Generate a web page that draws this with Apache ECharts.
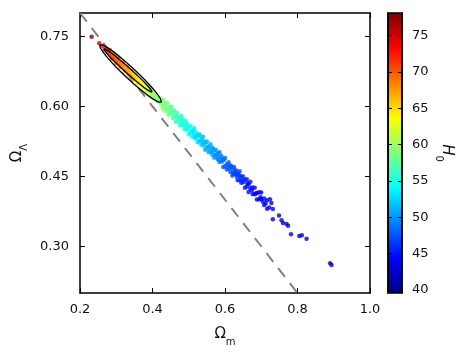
<!DOCTYPE html>
<html>
<head>
<meta charset="utf-8">
<title>Omega_m vs Omega_Lambda</title>
<script src="https://cdn.jsdelivr.net/npm/echarts@6.0.0/dist/echarts.min.js"></script>
<style>
  html, body { margin: 0; padding: 0; background: #fff; }
  #chart { width: 467px; height: 354px; }
</style>
</head>
<body>
<div id="chart"></div>
<script>
// ---- data ----
// sample points: Omega_m, Omega_Lambda, H0
const omegaM = [
  // two outliers above the contours
  0.232, 0.253,
  // inside the contours
  0.262, 0.268, 0.272, 0.276, 0.280, 0.284, 0.288, 0.292, 0.296, 0.300,
  0.303, 0.306, 0.309, 0.312, 0.315, 0.318, 0.321, 0.324, 0.327, 0.330,
  0.333, 0.336, 0.339, 0.342, 0.345, 0.348, 0.351, 0.354, 0.357, 0.360,
  0.363, 0.366, 0.369, 0.372, 0.375, 0.378, 0.381, 0.384, 0.387, 0.390,
  0.393, 0.396, 0.399, 0.402, 0.405, 0.408, 0.411, 0.414, 0.417, 0.420,
  0.282, 0.288, 0.294, 0.300, 0.306, 0.312, 0.318, 0.324, 0.330, 0.336,
  0.342, 0.348, 0.354, 0.360, 0.366, 0.372, 0.378, 0.384, 0.390, 0.396,
  0.402,
  // green / cyan part of the band
  0.424, 0.424, 0.428, 0.428, 0.432, 0.432, 0.436, 0.436, 0.440, 0.440,
  0.444, 0.444, 0.448, 0.448, 0.452, 0.452, 0.456, 0.456, 0.460, 0.460,
  0.464, 0.464, 0.468, 0.468, 0.472, 0.472, 0.476, 0.476, 0.480, 0.480,
  0.484, 0.484, 0.488, 0.488, 0.492, 0.492, 0.496, 0.496, 0.500, 0.500,
  // light blue part
  0.505, 0.505, 0.510, 0.510, 0.515, 0.515, 0.520, 0.520, 0.525, 0.525,
  0.530, 0.530, 0.535, 0.535, 0.540, 0.540, 0.545, 0.545, 0.550, 0.550,
  0.555, 0.555, 0.560, 0.560, 0.565, 0.565, 0.570, 0.570, 0.575, 0.575,
  0.580, 0.580, 0.585, 0.585, 0.590, 0.590, 0.595, 0.595, 0.600, 0.600,
  0.605, 0.605, 0.610, 0.610, 0.615, 0.615, 0.620, 0.620, 0.625, 0.625,
  0.630, 0.630, 0.635, 0.635, 0.640, 0.640, 0.645, 0.645, 0.650, 0.650,
  // blue cluster
  0.655, 0.655, 0.660, 0.660, 0.665, 0.665, 0.670, 0.670, 0.676, 0.676,
  0.682, 0.682, 0.688, 0.688, 0.694, 0.694, 0.700, 0.700, 0.708, 0.708,
  0.716, 0.716, 0.722, 0.728, 0.724, 0.732,
  0.662, 0.674, 0.686, 0.698, 0.712, 0.704,
  // sparse tail
  0.732, 0.749, 0.756, 0.760, 0.770, 0.774, 0.782, 0.805, 0.812, 0.825,
  0.890, 0.894,
  // middle of the band (green / cyan)
  0.426, 0.430, 0.434, 0.438, 0.442, 0.446, 0.450, 0.454, 0.458, 0.462,
  0.466, 0.470, 0.474, 0.478, 0.482, 0.486, 0.490, 0.494, 0.498,
  // middle of the band (light blue)
  0.5075, 0.5125, 0.5175, 0.5225, 0.5275, 0.5325, 0.5375, 0.5425, 0.5475, 0.5525,
  0.5575, 0.5625, 0.5675, 0.5725, 0.5775, 0.5825, 0.5875, 0.5925, 0.5975, 0.6025,
  0.6075, 0.6125, 0.6175, 0.6225, 0.6275, 0.6325, 0.6375, 0.6425, 0.6475
];
const omegaL = [
  0.749, 0.735,
  0.7295, 0.7221, 0.7231, 0.7172, 0.7172, 0.7102, 0.7103, 0.7033, 0.7064, 0.6994,
  0.7002, 0.6930, 0.6947, 0.6895, 0.6923, 0.6861, 0.6869, 0.6796, 0.6814, 0.6762,
  0.6790, 0.6728, 0.6735, 0.6663, 0.6681, 0.6629, 0.6657, 0.6594, 0.6602, 0.6530,
  0.6548, 0.6496, 0.6523, 0.6461, 0.6469, 0.6397, 0.6415, 0.6362, 0.6390, 0.6328,
  0.6336, 0.6264, 0.6281, 0.6229, 0.6257, 0.6195, 0.6203, 0.6130, 0.6158, 0.6096,
  0.7207, 0.7023, 0.7118, 0.6934, 0.7030, 0.6845, 0.6941, 0.6756, 0.6852, 0.6668,
  0.6763, 0.6579, 0.6674, 0.6490, 0.6586, 0.6401, 0.6497, 0.6312, 0.6408, 0.6224,
  0.6319,
  0.6166, 0.6026, 0.6077, 0.5947, 0.6127, 0.5987, 0.5908, 0.6048, 0.6078, 0.5948,
  0.5818, 0.5978, 0.5989, 0.5839, 0.5869, 0.5999, 0.5910, 0.5750, 0.5770, 0.5910,
  0.5810, 0.5670, 0.5681, 0.5861, 0.5771, 0.5701, 0.5592, 0.5772, 0.5792, 0.5612,
  0.5622, 0.5722, 0.5643, 0.5513, 0.5513, 0.5693, 0.5614, 0.5514, 0.5404, 0.5544,
  0.5577, 0.5437, 0.5350, 0.5490, 0.5533, 0.5393, 0.5306, 0.5446, 0.5369, 0.5229,
  0.5262, 0.5402, 0.5345, 0.5175, 0.5218, 0.5348, 0.5241, 0.5071, 0.5094, 0.5244,
  0.5137, 0.5017, 0.5050, 0.5190, 0.5113, 0.4963, 0.4896, 0.5046, 0.5069, 0.4939,
  0.4872, 0.4992, 0.5015, 0.4805, 0.4838, 0.4938, 0.4861, 0.4701, 0.4714, 0.4894,
  0.4757, 0.4647, 0.4670, 0.4800, 0.4733, 0.4593, 0.4516, 0.4666, 0.4699, 0.4549,
  0.4542, 0.4632, 0.4565, 0.4415, 0.4418, 0.4608, 0.4471, 0.4361, 0.4374, 0.4494,
  0.4427, 0.4257, 0.4280, 0.4440, 0.4333, 0.4163, 0.4246, 0.4386, 0.4122, 0.4262,
  0.4257, 0.4117, 0.4003, 0.4143, 0.4158, 0.4008, 0.4014, 0.4154, 0.3885, 0.4025,
  0.3986, 0.3806, 0.3831, 0.3927, 0.401, 0.380,
  0.435, 0.420, 0.414, 0.405, 0.392, 0.396,
  0.358, 0.366, 0.356, 0.350, 0.348, 0.344, 0.326, 0.322, 0.324, 0.316,
  0.264, 0.260,
  0.6102, 0.6022, 0.6062, 0.5943, 0.5963, 0.5864, 0.5934, 0.5854, 0.5895, 0.5775,
  0.5796, 0.5696, 0.5756, 0.5667, 0.5717, 0.5588, 0.5608, 0.5508, 0.5569,
  0.5439, 0.5472, 0.5335, 0.5368, 0.5381, 0.5264, 0.5277, 0.5160, 0.5223, 0.5126,
  0.5119, 0.5022, 0.5085, 0.4958, 0.4961, 0.4854, 0.4917, 0.4820, 0.4853, 0.4716,
  0.4749, 0.4682, 0.4715, 0.4578, 0.4611, 0.4484, 0.4517, 0.4510, 0.4403
];
const hubble = [
  77.5, 74.5,
  72.5, 72, 71.5, 71.5, 71, 71, 70.5, 70.5, 70, 70,
  69.5, 69.5, 69, 69, 68.5, 68.5, 68, 68, 67.5, 67.5,
  67, 67, 66.5, 66.5, 66, 66, 65.5, 65, 65, 64.5,
  64, 64, 63.5, 63, 63, 62.5, 62, 62, 61.5, 61,
  61, 60.5, 60, 60, 59.5, 59.5, 59, 59, 58.5, 58.5,
  71, 70.5, 70, 70, 69.5, 69, 68.5, 68, 67.5, 67,
  66.5, 66, 65, 64.5, 64, 63, 62.5, 62, 61, 60.5,
  60,
  59.5, 59.5, 59.5, 59, 59, 59, 59, 58.5, 58.5, 58.5,
  58, 58.5, 58, 58, 57.5, 58, 57.5, 57, 57, 57.5,
  56.5, 56, 56, 56.5, 56, 56, 55.5, 56, 55.5, 55.5,
  55, 55.5, 55, 55, 54.5, 55, 54.5, 54.5, 54, 54.5,
  54, 53.5, 53.5, 54, 53.5, 53, 53, 53.5, 53, 52.5,
  52, 52.5, 52, 51.5, 51.5, 52, 51.5, 51, 51, 51.5,
  51, 50.5, 50.5, 51, 50.5, 50, 50, 50.5, 50, 49.5,
  49, 49.5, 49, 48.5, 48.5, 49, 48.5, 48, 48, 48.5,
  48, 47.5, 47.5, 48, 47.5, 47, 47, 47.5, 47, 46.5,
  46.5, 47, 46.5, 46, 46, 46.5, 46, 45.5, 45.5, 46,
  45.5, 45, 45, 45.5, 45, 44.5, 44.5, 45, 44.5, 44.5,
  44.5, 44, 44, 44.5, 44, 44, 44, 44, 44, 43.5,
  43.5, 44, 43.5, 43.5, 44, 43.5,
  44.5, 44.5, 44, 44, 43.5, 44,
  43.5, 43.5, 43.5, 43, 43, 43, 43, 43, 43, 43,
  42.5, 42.5,
  59.3, 59, 58.8, 58.5, 58.3, 58, 57.8, 57.5, 57.3, 57,
  56.7, 56.5, 56.2, 56, 55.7, 55.5, 55.2, 55, 54.7,
  53.5, 53.2, 53, 52.7, 52.4, 52.2, 51.9, 51.6, 51.4, 51.1,
  50.8, 50.5, 50.3, 50, 49.7, 49.5, 49.2, 48.9, 48.7, 48.4,
  48.1, 47.9, 47.6, 47.3, 47.1, 46.8, 46.5, 46.3, 46
];

// confidence contours (traced vertices)
const outerM = [0.3290, 0.3006, 0.2722, 0.2562, 0.2547, 0.2633, 0.2868, 0.3201, 0.3497,
  0.3780, 0.4065, 0.4224, 0.4239, 0.4153, 0.3918, 0.3585, 0.3290];
const outerL = [0.6618, 0.6833, 0.7077, 0.7252, 0.7318, 0.7310, 0.7199, 0.6995, 0.6790,
  0.6574, 0.6330, 0.6156, 0.6089, 0.6097, 0.6208, 0.6413, 0.6618];
const innerM = [0.3273, 0.3049, 0.2820, 0.2685, 0.2662, 0.2720, 0.2893, 0.3146, 0.3376,
  0.3599, 0.3828, 0.3964, 0.3986, 0.3928, 0.3756, 0.3502, 0.3273];
const innerL = [0.6723, 0.6884, 0.7062, 0.7186, 0.7229, 0.7216, 0.7125, 0.6968, 0.6813,
  0.6652, 0.6474, 0.6350, 0.6307, 0.6320, 0.6410, 0.6568, 0.6723];

// flat universe line Om + OL = 1
const flatM = [0.2, 0.8];
const flatL = [0.8, 0.2];

// ticks
const xTicks = [0.2, 0.4, 0.6, 0.8, 1.0];
const yTicks = [0.3, 0.45, 0.6, 0.75];
const cbTicks = [40, 45, 50, 55, 60, 65, 70, 75];
const cbMin = 39.6;
const cbMax = 78.1;

// ---- helpers ----
const zip = (a, b, c) => a.map((v, i) => c ? [v, b[i], c[i]] : [v, b[i]]);

// matplotlib-like jet colormap
const jet = (t) => {
  const c = v => Math.round(255 * Math.max(0, Math.min(1, v)));
  return 'rgb(' + c(1.5 - Math.abs(4 * t - 3)) + ',' + c(1.5 - Math.abs(4 * t - 2)) + ',' + c(1.5 - Math.abs(4 * t - 1)) + ')';
};
const jetStops = [];
for (let i = 0; i <= 40; i++) jetStops.push(jet(i / 40));

const FONT = 'DejaVu Sans';
const black = '#000';

const tickLine = { lineStyle: { color: black, width: 1 } };
// base glyph + subscript
const subRich = (italic) => ({
  o: { fontSize: 15, fontFamily: FONT, fontStyle: italic ? 'italic' : 'normal', color: '#111', verticalAlign: 'top', lineHeight: 20 },
  s: { fontSize: 10, fontFamily: FONT, color: '#111', verticalAlign: 'bottom', lineHeight: 11 }
});

const chart = echarts.init(document.getElementById('chart'));

const option = {
  animation: false,
  textStyle: { fontFamily: FONT },
  grid: [
    { left: 80, top: 13, width: 290, height: 280, show: false },
    { left: 388, top: 13, width: 14, height: 280, show: true, z: 10,
      backgroundColor: 'transparent', borderColor: black, borderWidth: 1.5 }
  ],
  xAxis: [
    {
      gridIndex: 0, type: 'value', min: 0.2, max: 1.0, position: 'bottom',
      splitLine: { show: false },
      axisLine: { onZero: false, lineStyle: { color: black, width: 1.5 } },
      axisTick: { inside: true, length: 5, customValues: xTicks, ...tickLine },
      axisLabel: { customValues: xTicks, margin: 10, fontSize: 13, color: '#111',
        formatter: v => v.toFixed(1) },
      name: '{o|Ω}{s|m}', nameLocation: 'middle', nameGap: 34,
      nameTextStyle: { rich: subRich(false) }
    },
    {
      gridIndex: 0, type: 'value', min: 0.2, max: 1.0, position: 'top',
      splitLine: { show: false },
      axisLine: { onZero: false, lineStyle: { color: black, width: 1.5 } },
      axisTick: { inside: true, length: 5, customValues: xTicks, ...tickLine },
      axisLabel: { show: false }
    },
    { gridIndex: 1, type: 'value', min: 0, max: 1, show: false }
  ],
  yAxis: [
    {
      gridIndex: 0, type: 'value', min: 0.2, max: 0.8, position: 'left',
      splitLine: { show: false },
      axisLine: { onZero: false, lineStyle: { color: black, width: 1.5 } },
      axisTick: { inside: true, length: 5, customValues: yTicks, ...tickLine },
      axisLabel: { customValues: yTicks, margin: 11, fontSize: 13, color: '#111',
        formatter: v => v.toFixed(2) },
      name: '{o|Ω}{s|Λ}', nameLocation: 'middle', nameRotate: 90, nameGap: 46,
      nameTextStyle: { rich: subRich(false) }
    },
    {
      gridIndex: 0, type: 'value', min: 0.2, max: 0.8, position: 'right',
      splitLine: { show: false },
      axisLine: { onZero: false, lineStyle: { color: black, width: 1.5 } },
      axisTick: { inside: true, length: 5, customValues: yTicks, ...tickLine },
      axisLabel: { show: false }
    },
    // colorbar scale
    {
      gridIndex: 1, type: 'value', min: cbMin, max: cbMax, position: 'right', z: 12,
      splitLine: { show: false },
      axisLine: { onZero: false, lineStyle: { color: black, width: 1.5 } },
      axisTick: { inside: true, length: 4, customValues: cbTicks, ...tickLine },
      axisLabel: { customValues: cbTicks, margin: 10, fontSize: 13, color: '#111' },
      name: '{o|H}{s|0}', nameLocation: 'middle', nameRotate: -90, nameGap: 32,
      nameTextStyle: { rich: subRich(true) }
    },
    {
      gridIndex: 1, type: 'value', min: cbMin, max: cbMax, position: 'left', z: 12,
      splitLine: { show: false },
      axisLine: { onZero: false, lineStyle: { color: black, width: 1.5 } },
      axisTick: { inside: true, length: 4, customValues: cbTicks, ...tickLine },
      axisLabel: { show: false }
    }
  ],
  visualMap: {
    type: 'continuous', min: cbMin, max: cbMax, dimension: 2, seriesIndex: 0,
    calculable: false, orient: 'vertical', left: 388, top: 13, padding: 0,
    itemWidth: 14, itemHeight: 280, text: null, hoverLink: false,
    inRange: { color: jetStops }
  },
  series: [
    {
      name: 'samples', type: 'scatter', xAxisIndex: 0, yAxisIndex: 0,
      symbolSize: 4.5, z: 3,
      data: zip(omegaM, omegaL, hubble)
    },
    {
      name: 'flat', type: 'line', xAxisIndex: 0, yAxisIndex: 0,
      symbol: 'none', z: 2, silent: true,
      lineStyle: { color: '#808080', width: 2, type: [11, 8] },
      data: zip(flatM, flatL)
    },
    {
      name: 'outer', type: 'line', xAxisIndex: 0, yAxisIndex: 0,
      symbol: 'none', smooth: 0.3, z: 4, silent: true,
      lineStyle: { color: black, width: 1.3 },
      data: zip(outerM, outerL)
    },
    {
      name: 'inner', type: 'line', xAxisIndex: 0, yAxisIndex: 0,
      symbol: 'none', smooth: 0.3, z: 4, silent: true,
      lineStyle: { color: black, width: 1.3 },
      data: zip(innerM, innerL)
    }
  ]
};

chart.setOption(option);
</script>
</body>
</html>
